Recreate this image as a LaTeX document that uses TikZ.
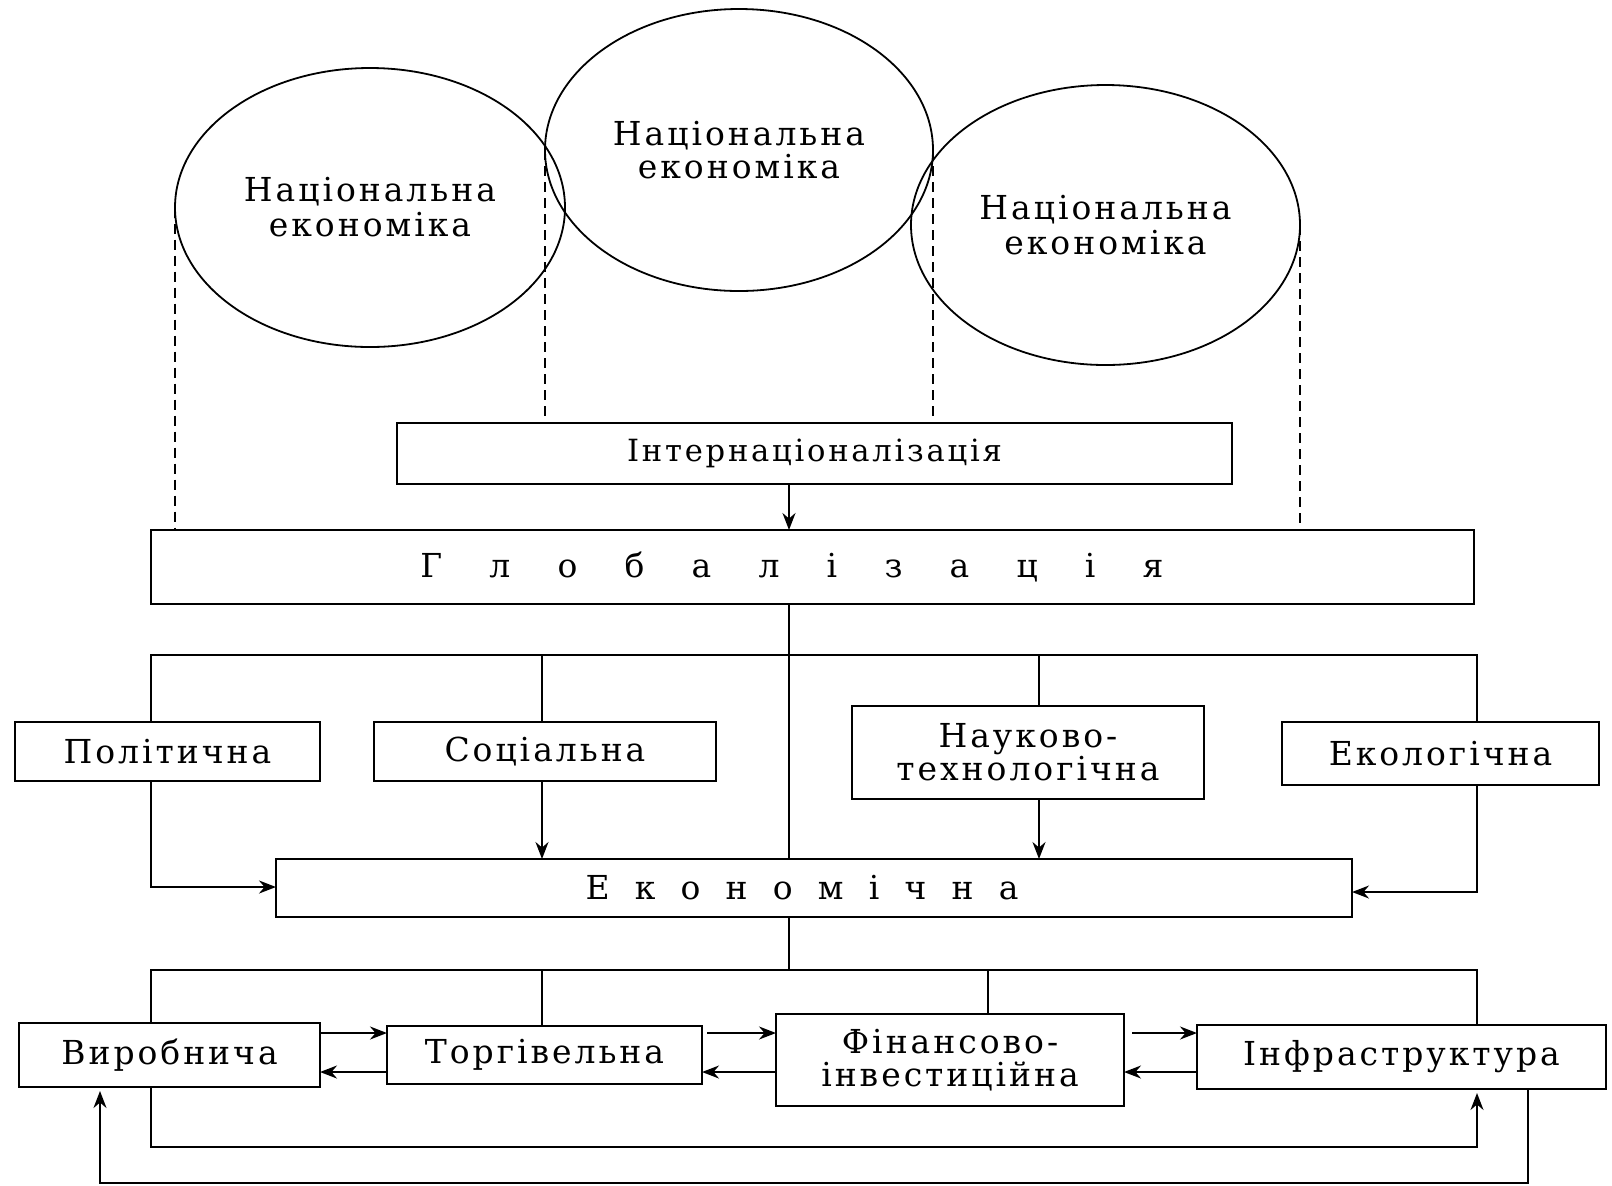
\documentclass[tikz,border=0pt]{standalone}
\usepackage{fontspec}
\setmainfont[LetterSpace=9]{DejaVu Serif}
\usetikzlibrary{shapes.geometric,arrows.meta}
\newcommand{\gsp}{\hspace{23.6pt}}
\newcommand{\esp}{\hspace{12.6pt}}
\begin{document}
\begin{tikzpicture}[x=0.5pt,y=-0.5pt,
  every node/.style={font=\fontsize{16.5pt}{16.5pt}\selectfont, inner sep=0pt, outer sep=0pt},
  ell/.style={ellipse, draw, line width=0.9pt, align=center},
  box/.style={rectangle, draw, line width=1pt, align=center},
  ln/.style={line width=1pt},
  dsh/.style={line width=0.9pt, dash pattern=on 5pt off 3pt},
  arr/.style={line width=1pt, -{Stealth[length=8.5pt,width=6.5pt]}}]
\useasboundingbox (0,0) rectangle (1612,1185);

% national economies
\node[ell, minimum width=195pt, minimum height=139.5pt, font=\fontsize{16.5pt}{17.5pt}\selectfont] (c1) at (370,207.5) {Національна\\економіка};
\node[ell, minimum width=194pt, minimum height=141pt] (c2) at (739,150) {Національна\\економіка};
\node[ell, minimum width=194.5pt, minimum height=140pt, font=\fontsize{16.5pt}{17.5pt}\selectfont] (c3) at (1105.5,225) {Національна\\економіка};

% boxes
\node[box, minimum width=417.5pt, minimum height=30.5pt, font=\fontsize{15.3pt}{16pt}\selectfont] (intern) at (814.5,453.5) {Інтернаціоналізація};
\node[box, minimum width=661.5pt, minimum height=37pt] (glob) at (812.5,567) {Г\gsp л\gsp о\gsp б\gsp а\gsp л\gsp і\gsp з\gsp а\gsp ц\gsp і\gsp я\hspace{20.5pt}};

\node[box, minimum width=152.5pt, minimum height=29.5pt] (polit) at (167.5,751.5) {Політична};
\node[box, minimum width=171pt, minimum height=29.5pt] (soc) at (545,751.5) {Соціальна};
\node[box, minimum width=176pt, minimum height=46.5pt] (nauk) at (1028,752.5) {Науково-\\технологічна};
\node[box, minimum width=158.5pt, minimum height=31.5pt] (ekol) at (1440.5,753.5) {Екологічна};

\node[box, minimum width=538pt, minimum height=29pt] (econ) at (814,888) {Е\esp к\esp о\esp н\esp о\esp м\esp і\esp ч\esp н\esp а\hspace{12pt}};

\node[box, minimum width=150.5pt, minimum height=32pt] (vyrob) at (169.5,1055) {Виробнича};
\node[box, minimum width=157.5pt, minimum height=29pt] (torg) at (544.5,1055) {Торгівельна};
\node[box, minimum width=174pt, minimum height=46pt] (fin) at (950,1060) {Фінансово-\\інвестиційна};
\node[box, minimum width=204.5pt, minimum height=32pt] (infra) at (1401.5,1057) {Інфраструктура};

% helper coordinates
\coordinate (tk) at (789,0);
\coordinate (b1L) at (151,655);
\coordinate (b1R) at (1477,655);
\coordinate (xS) at (542,0);
\coordinate (xN) at (1039,0);
\coordinate (b2L) at (151,970);
\coordinate (b2R) at (1477,970);
\coordinate (xF) at (987.5,0);
\coordinate (hu) at (0,1033);
\coordinate (hl) at (0,1072);
\coordinate (l1L) at (151,1147);
\coordinate (l1R) at (1477,1147);
\coordinate (l2L) at (100,1183);
\coordinate (l2R) at (1528,1183);

% dashed projections
\draw[dsh] (c1.west) -- (c1.west |- glob.north);
\draw[dsh] (c2.west) -- (c2.west |- intern.north);
\draw[dsh] (c2.east) -- (c2.east |- intern.north);
\draw[dsh] (c3.east) -- (c3.east |- glob.north);

% internationalisation -> globalisation
\draw[arr] (intern.south -| tk) -- (glob.north -| tk);
\draw[ln] (glob.south -| tk) -- (econ.north -| tk);

% first bus
\draw[ln] (polit.north -| b1L) -- (b1L) -- (b1R) -- (ekol.north -| b1R);
\draw[ln] (soc.north -| xS) -- (xS |- b1L);
\draw[ln] (nauk.north -| xN) -- (xN |- b1L);

% into economic
\draw[arr] (polit.south -| b1L) |- ([yshift=0.5]econ.west);
\draw[arr] (soc.south -| xS) -- (econ.north -| xS);
\draw[arr] (nauk.south -| xN) -- (econ.north -| xN);
\draw[arr] (ekol.south -| b1R) |- ([yshift=-2]econ.east);

% second bus
\draw[ln] (econ.south -| tk) -- (tk |- b2L);
\draw[ln] (vyrob.north -| b2L) -- (b2L) -- (b2R) -- (infra.north -| b2R);
\draw[ln] (torg.north -| xS) -- (xS |- b2L);
\draw[ln] (fin.north -| xF) -- (xF |- b2L);

% horizontal exchanges
\draw[arr] (vyrob.east |- hu) -- (torg.west |- hu);
\draw[arr] (torg.west |- hl) -- (vyrob.east |- hl);
\draw[arr, shorten <=2.5pt] (torg.east |- hu) -- (fin.west |- hu);
\draw[arr] (fin.west |- hl) -- (torg.east |- hl);
\draw[arr, shorten <=4pt] (fin.east |- hu) -- (infra.west |- hu);
\draw[arr] (infra.west |- hl) -- (fin.east |- hl);

% bottom loops
\draw[arr, shorten >=2pt] (vyrob.south -| l1L) -- (l1L) -- (l1R) -- (infra.south -| l1R);
\draw[arr, shorten >=2pt] (infra.south -| l2R) -- (l2R) -- (l2L) -- (vyrob.south -| l2L);
\end{tikzpicture}
\end{document}
